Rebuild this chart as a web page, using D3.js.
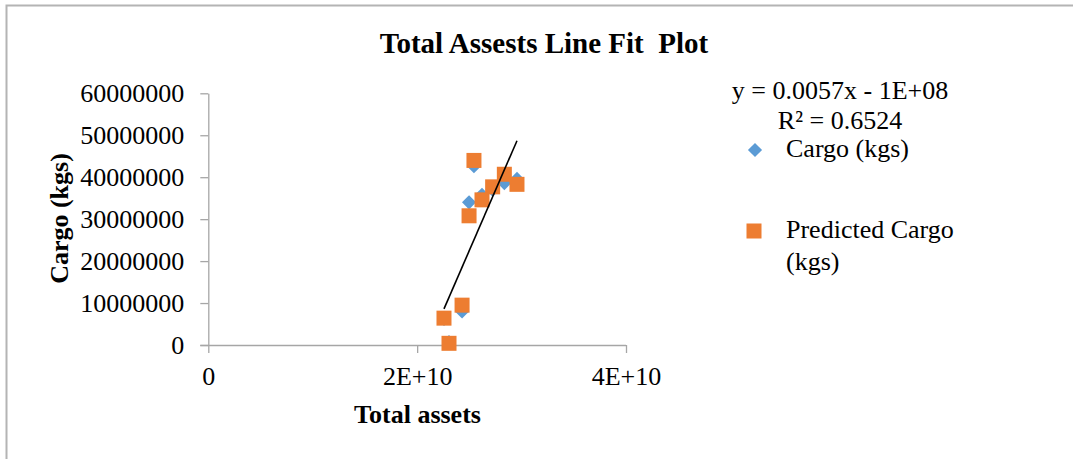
<!DOCTYPE html>
<meta charset="utf-8">
<script src="https://d3js.org/d3.v7.min.js"></script>
<style>
  body { margin: 0; background: #fff; }
  svg text { font-family: "Liberation Serif", "Times New Roman", serif; fill: #000; }
</style>
<div id="chart"></div>
<script>

// data
var totalAssets   = [25.44e9, 28.35e9, 27.23e9, 29.56e9, 26.21e9, 24.97e9, 24.30e9, 22.57e9, 23.05e9];
var cargo         = [42.6e6, 38.6e6, 37.0e6, 39.6e6, 35.8e6, 34.0e6, 8.0e6, 6.2e6, 0.7e6];
var predicted     = [44.0e6, 40.7e6, 37.7e6, 38.3e6, 34.6e6, 30.8e6, 9.5e6, 6.4e6, 0.4e6];
var yTickValues   = [0, 10e6, 20e6, 30e6, 40e6, 50e6, 60e6];
var xTickValues   = [0, 2e10, 4e10];
var xTickLabels   = ["0", "2E+10", "4E+10"];
var trendSlope    = 0.00573;
var trendIntercept = -1.207e8;
var equationText  = ["y = 0.0057x - 1E+08", "R\u00B2 = 0.6524"];
var seriesNames   = ["Cargo (kgs)", "Predicted Cargo", "(kgs)"];

var W = 1073, H = 459;
var svg = d3.select("#chart").append("svg")
    .attr("width", W)
    .attr("height", H);

// outer frame (only left and top edges fall inside the picture)
svg.append("rect")
    .attr("x", 6.5).attr("y", 5.5)
    .attr("width", 1200).attr("height", 600)
    .attr("fill", "none")
    .attr("stroke", "#b4b4b4")
    .attr("stroke-width", 2);

var x = d3.scaleLinear().domain([0, 4e10]).range([208.3, 626]);
var y = d3.scaleLinear().domain([0, 6e7]).range([345, 93.3]);

var axisColor = "#a6a6a6";

// Y axis
var gy = svg.append("g")
    .attr("transform", "translate(" + x(0) + ",0)")
    .call(d3.axisLeft(y).tickValues(yTickValues).tickFormat(d3.format("d"))
      .tickSize(8).tickSizeOuter(0).tickPadding(16));
gy.select(".domain").attr("stroke", axisColor).attr("stroke-width", 1.3);
gy.selectAll(".tick line").attr("stroke", axisColor).attr("stroke-width", 1.3);
gy.selectAll("text")
    .attr("font-family", "Liberation Serif")
    .attr("font-size", 26)
    .attr("dy", "0.32em");
gy.attr("font-family", null).attr("font-size", null);

// X axis
var gx = svg.append("g")
    .attr("transform", "translate(0," + y(0) + ")")
    .call(d3.axisBottom(x).tickValues(xTickValues)
      .tickFormat(function(d, i) { return xTickLabels[i]; })
      .tickSize(8).tickSizeOuter(0));
gx.select(".domain").attr("stroke", axisColor).attr("stroke-width", 1.3)
    .attr("d", "M" + (x(0) - 8) + ",0.5H" + x(4e10));
gx.selectAll(".tick line").attr("stroke", axisColor).attr("stroke-width", 1.3);
gx.selectAll("text")
    .attr("font-family", "Liberation Serif")
    .attr("font-size", 26)
    .attr("y", 40)
    .attr("dy", 0);
gx.attr("font-family", null).attr("font-size", null);

// Cargo points (diamonds = squares turned 45 degrees)
var diamond = d3.symbol().type(d3.symbolSquare).size(100);
svg.selectAll(".cargo")
    .data(totalAssets)
    .enter().append("path")
    .attr("class", "cargo")
    .attr("d", diamond)
    .attr("transform", function(d, i) { return "translate(" + x(d) + "," + y(cargo[i]) + ") rotate(45)"; })
    .attr("fill", "#5b9bd5");

// Predicted points (squares)
var sq = 15;
svg.selectAll(".pred")
    .data(totalAssets)
    .enter().append("rect")
    .attr("class", "pred")
    .attr("x", function(d) { return x(d) - sq / 2; })
    .attr("y", function(d, i) { return y(predicted[i]) - sq / 2; })
    .attr("width", sq)
    .attr("height", sq)
    .attr("fill", "#ed7d31");

// trend line
var ext = d3.extent(totalAssets);
svg.append("line")
    .attr("x1", x(ext[0])).attr("y1", y(trendSlope * ext[0] + trendIntercept))
    .attr("x2", x(ext[1])).attr("y2", y(trendSlope * ext[1] + trendIntercept))
    .attr("stroke", "#000")
    .attr("stroke-width", 1.6);

// title
svg.append("text")
    .attr("x", 544).attr("y", 53)
    .attr("text-anchor", "middle")
    .attr("font-size", 29)
    .attr("font-weight", "bold")
    .style("white-space", "pre")
    .text("Total Assests Line Fit  Plot");

// axis titles
svg.append("text")
    .attr("x", 417.5).attr("y", 423)
    .attr("text-anchor", "middle")
    .attr("font-size", 26)
    .attr("font-weight", "bold")
    .text("Total assets");

svg.append("text")
    .attr("transform", "translate(68,218.5) rotate(-90)")
    .attr("text-anchor", "middle")
    .attr("font-size", 26)
    .attr("font-weight", "bold")
    .text("Cargo (kgs)");

// trendline equation
svg.selectAll(".eq")
    .data(equationText)
    .enter().append("text")
    .attr("class", "eq")
    .attr("x", 840)
    .attr("y", function(d, i) { return 99 + i * 30; })
    .attr("text-anchor", "middle")
    .attr("font-size", 26)
    .text(function(d) { return d; });

// legend
svg.append("path")
    .attr("d", diamond)
    .attr("transform", "translate(755,150) rotate(45)")
    .attr("fill", "#5b9bd5");
svg.append("rect")
    .attr("x", 754 - sq / 2).attr("y", 231 - sq / 2)
    .attr("width", sq).attr("height", sq)
    .attr("fill", "#ed7d31");

var legendY = [157, 238, 270];
svg.selectAll(".leg")
    .data(seriesNames)
    .enter().append("text")
    .attr("class", "leg")
    .attr("x", 786)
    .attr("y", function(d, i) { return legendY[i]; })
    .attr("font-size", 26)
    .text(function(d) { return d; });

</script>
